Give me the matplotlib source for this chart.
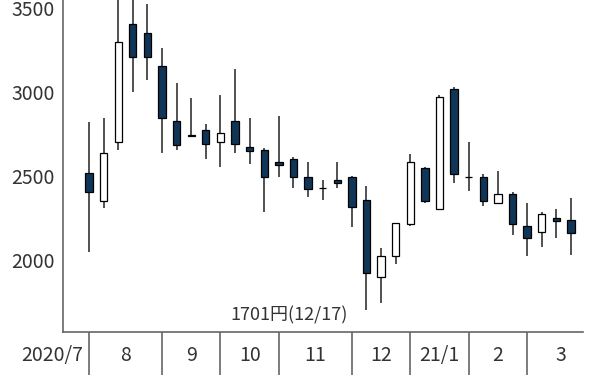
import matplotlib
matplotlib.use('Agg')
import matplotlib.pyplot as plt
import matplotlib.transforms as mtrans

plt.rcParams['font.family'] = ['Noto Sans CJK JP', 'DejaVu Sans']

# weekly candles, 2020/7 .. 2021/3 (yen)
opens = [2517, 2353, 2705, 3407, 3351, 3158, 2828, 2745, 2775, 2705,
         2828, 2673, 2654, 2584, 2602, 2497, 2430, 2477, 2497, 2358,
         1900, 2026, 2215, 2547, 2304, 3019, 2497, 2495, 2338, 2393,
         2203, 2165, 2252, 2237]
highs = [2825, 2845, 3650, 3650, 3526, 3262, 3053, 2964, 2809, 2983,
         3138, 2845, 2666, 2860, 2616, 2582, 2477, 2582, 2500, 2441,
         2073, 2222, 2632, 2556, 2983, 3033, 2705, 2513, 2530, 2403,
         2338, 2284, 2302, 2371]
lows = [2045, 2308, 2656, 3003, 3073, 2636, 2656, 2731, 2602, 2552,
        2636, 2570, 2288, 2497, 2427, 2374, 2358, 2427, 2199, 1701,
        1746, 1976, 2203, 2341, 2304, 2461, 2411, 2322, 2338, 2149,
        2026, 2080, 2129, 2030]
closes = [2407, 2636, 3297, 3212, 3212, 2845, 2686, 2738, 2690, 2759,
          2690, 2651, 2497, 2564, 2497, 2425, 2427, 2461, 2318, 1921,
          2024, 2219, 2584, 2353, 2970, 2513, 2495, 2353, 2393, 2215,
          2129, 2272, 2234, 2163]

# month boundaries (week index) and labels
month_starts = [0, 5, 9, 13, 18, 22, 26, 30]
month_labels = ['2020/7', '8', '9', '10', '11', '12', '21/1', '2', '3']
label_pos = [-2.5, 2.5, 7, 11, 15.5, 20, 24, 28, 32.3]

y_ticks = [2000, 2500, 3000, 3500]

navy = '#0f3557'
text_col = '#333333'
axis_col = '#666666'

fig = plt.figure(figsize=(6, 3.75), dpi=100)
ax = fig.add_axes([0.105, 0.115, 0.867, 0.885])

x = list(range(len(opens)))
ax.vlines(x, lows, highs, color='#333333', lw=1.2, zorder=1)
for i in x:
    o, c = opens[i], closes[i]
    fill = 'white' if c > o else navy
    ax.bar(i, abs(c - o), bottom=min(o, c), width=0.5, color=fill,
           edgecolor='black', linewidth=0.9, zorder=2)

ax.set_xlim(-1.78, 33.84)
ax.set_ylim(1571, 3550)

ax.spines['top'].set_visible(False)
ax.spines['right'].set_visible(False)
for s in ('left', 'bottom'):
    ax.spines[s].set_color(axis_col)
    ax.spines[s].set_linewidth(1.2)

ax.set_yticks(y_ticks)
ax.set_yticklabels([str(v) for v in y_ticks])
ax.tick_params(axis='y', length=0, pad=6, labelsize=14, labelcolor=text_col)

# month separators hang below the axis
ax.set_xticks(month_starts)
ax.set_xticklabels([])
ax.tick_params(axis='x', length=32, width=1.2, color=axis_col, direction='out')

trans = mtrans.blended_transform_factory(ax.transData, ax.transAxes)
for p, lab in zip(label_pos, month_labels):
    ax.text(p, -0.07, lab, transform=trans, ha='center', va='center',
            fontsize=14, color=text_col, clip_on=False)

ax.text(13.7, 1668, '1701円(12/17)', ha='center', va='center',
        fontsize=13, color=text_col)

fig.savefig('out.png', dpi=100)
